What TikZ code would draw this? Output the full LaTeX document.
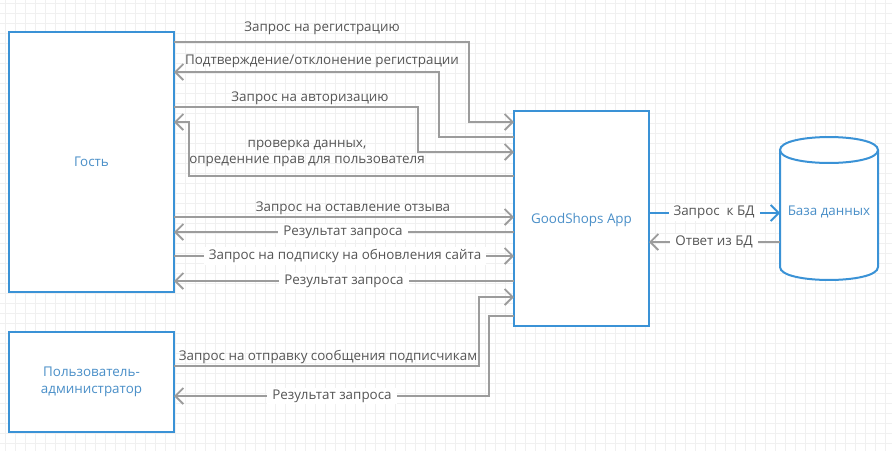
\documentclass[tikz,border=0pt]{standalone}
\usepackage{fontspec}
\setmainfont{Open Sans}
\usetikzlibrary{arrows.meta}
\definecolor{boxblue}{HTML}{3A92D6}
\definecolor{txtblue}{HTML}{4A8FC8}
\definecolor{linegray}{HTML}{9C9C9C}
\definecolor{lbltxt}{HTML}{555555}
\definecolor{gridc}{HTML}{F0F0F0}
\tikzset{
  box/.style={draw=boxblue, line width=2pt, fill=white, rectangle, inner sep=0pt, outer sep=0pt, text=txtblue, align=center, font=\fontsize{13.4}{17}\selectfont},
  tipb/.style={-{Straight Barb[length=8pt,width=16pt,line width=1.8pt]}},
  arr/.style={draw=linegray, line width=2pt, tipb},
  lbl/.style={text=lbltxt, inner sep=0pt, font=\fontsize{13.4}{16}\selectfont, align=center},
  onlbl/.style={lbl, fill=white, inner xsep=5pt, inner ysep=2pt},
  gridline/.style={draw=gridc, line width=0.8pt}
}
\begin{document}
\begin{tikzpicture}[x=1pt,y=-1pt]
\useasboundingbox (0,0) rectangle (892,451);
\fill[white] (0,0) rectangle (892,451);
\foreach \gx in {5,15,...,885} \draw[gridline] (\gx,0) -- (\gx,451);
\foreach \gy in {3,13,...,443} \draw[gridline] (0,\gy) -- (892,\gy);

% boxes
\node[box, minimum width=165pt, minimum height=260pt] (guest) at (91.5,162) {};
\node[text=txtblue, font=\fontsize{13.4}{17}\selectfont] (guestlbl) at (91.5,162) {Гость};
\node[box, minimum width=165pt, minimum height=100pt] (admin) at (91.5,382) {Пользователь-\\администратор};
\node[box, minimum width=135pt, minimum height=215pt] (app) at (581.5,218.5) {};
\node[text=txtblue, font=\fontsize{13.4}{17}\selectfont] (applbl) at (581.5,220) {GoodShops App};

% database cylinder
\node[minimum width=98pt, minimum height=143pt, inner sep=0pt, outer sep=0pt] (db) at (829,208.5) {};
\fill[white] (780,150) -- (780,267) .. controls (780,284.3) and (878,284.3) .. (878,267) -- (878,150) -- cycle;
\draw[boxblue, line width=2pt, fill=white] (780,150) .. controls (780,132.7) and (878,132.7) .. (878,150) .. controls (878,167.3) and (780,167.3) .. (780,150) -- cycle;
\draw[boxblue, line width=2pt] (780,150) -- (780,267) .. controls (780,284.3) and (878,284.3) .. (878,267) -- (878,150);
\node[text=txtblue, font=\fontsize{13.4}{17}\selectfont] (dblbl) at (829,212) {База данных};

% connectors guest <-> app
\draw[arr] (guest.east |- 0,42) -| (469,122) -- (app.west |- 0,122);
\draw[arr] (app.west |- 0,137) -| (439,72) -- (guest.east |- 0,72);
\draw[arr] (guest.east |- 0,107) -| (418,152) -- (app.west |- 0,152);
\draw[arr] (app.west |- 0,176) -| (189,122) -- (guest.east |- 0,122);
\draw[arr] (guest.east |- 0,217) -- (app.west |- 0,217);
\draw[arr] (app.west |- 0,232) -- (guest.east |- 0,232);
\draw[arr] (guest.east |- 0,256) -- (app.west |- 0,256);
\draw[arr] (app.west |- 0,281) -- (guest.east |- 0,281);

% connectors admin <-> app
\draw[arr] (admin.east |- 0,366) -| (479,297) -- (app.west |- 0,297);
\draw[arr] (app.west |- 0,316) -| (489,396) -- (admin.east |- 0,396);

% connectors app <-> db
\draw[draw=boxblue, line width=2pt, tipb] (app.east |- 0,213) -- (db.west |- 0,213);
\draw[arr] (db.west |- 0,242) -- (app.east |- 0,242);

% labels
\node[lbl] (l1) at (322,28) {Запрос на регистрацию};
\node[lbl] (l2) at (322,61) {Подтверждение/отклонение регистрации};
\node[lbl] (l3) at (310,98) {Запрос на авторизацию};
\node[lbl] (l4) at (307,153) {проверка данных,\\опреденние прав для пользователя};
\node[lbl] (l5) at (353,208) {Запрос на оставление отзыва};
\node[onlbl] (l6) at (343,232) {Результат запроса};
\node[onlbl] (l7) at (345,256) {Запрос на подписку на обновления сайта};
\node[onlbl] (l8) at (344,281) {Результат запроса};
\node[lbl] (l9) at (328,357) {Запрос на отправку сообщения подписчикам};
\node[onlbl] (l10) at (332,396) {Результат запроса};
\node[onlbl] (l11) at (714,212.5) {Запрос~~к БД};
\node[onlbl] (l12) at (714,242) {Ответ из БД};
\end{tikzpicture}
\end{document}
